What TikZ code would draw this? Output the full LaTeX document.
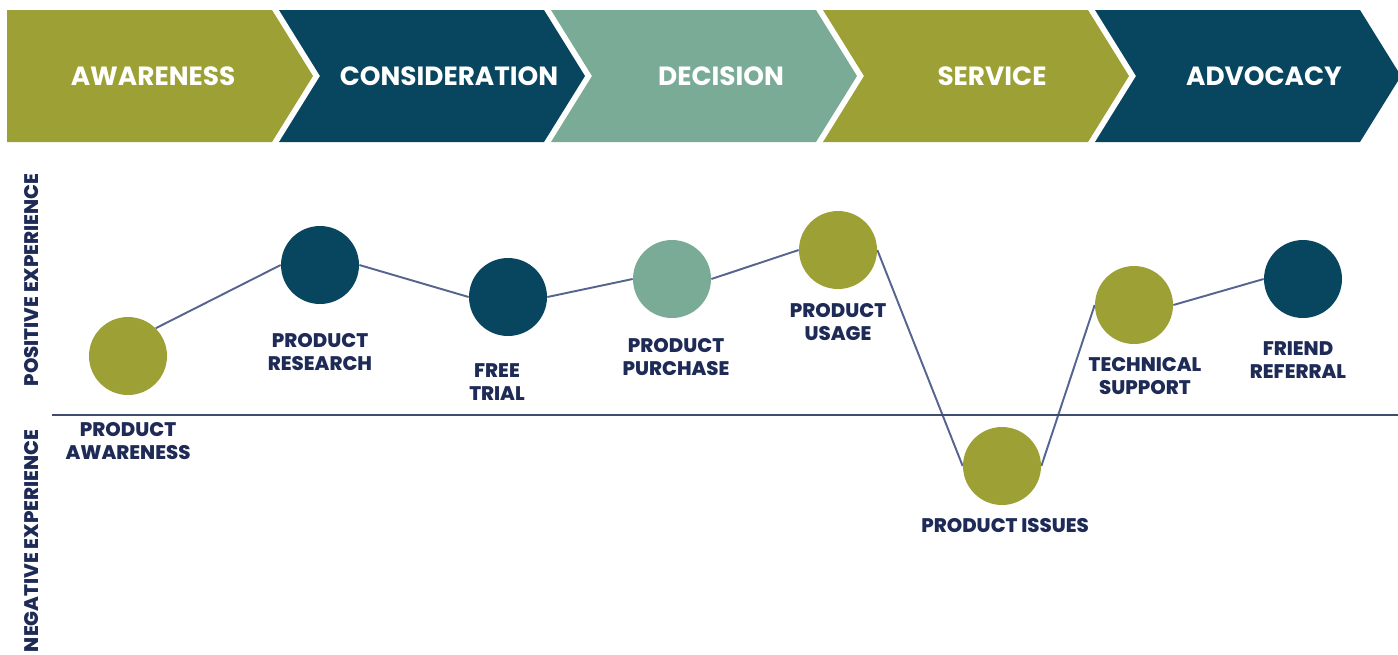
\documentclass[tikz,border=0pt]{standalone}
\usepackage{fontspec}
\setmainfont{Poppins}
\newfontfamily\heavyfont{Poppins ExtraBold}
\usetikzlibrary{positioning,backgrounds}
\definecolor{moss}{HTML}{9DA034}
\definecolor{petrol}{HTML}{08455F}
\definecolor{sage}{HTML}{7AAB96}
\definecolor{ink}{HTML}{1E2B57}
\definecolor{wire}{HTML}{56648F}

\begin{document}
\begin{tikzpicture}[x=0.02cm,y=-0.02cm,
  stage/.style={font=\fontsize{15}{17}\selectfont\bfseries,text=white},
  spot/.style={circle,minimum size=1.56cm,inner sep=0pt},
  tag/.style={font=\fontsize{11.2}{13}\selectfont\heavyfont,text=ink,align=center},
  link/.style={draw=wire,line width=1.1pt}]
  \useasboundingbox (0,0) rectangle (1398,654);

  % stages along the top
  \fill[moss] (7,10) -- (272,10) -- (313,76) -- (272,142) -- (7,142) -- cycle;
  \foreach \x/\c in {279/petrol,551/sage,823/moss,1095/petrol}
    \fill[\c] (\x,10) -- ++(265,0) -- ++(41,66) -- ++(-41,66) -- ++(-265,0) -- ++(41,-66) -- cycle;

  \node[stage] (awa) at (153,76) {AWARENESS};
  \node[stage] (con) at (449,76) {CONSIDERATION};
  \node[stage] (dec) at (721,76) {DECISION};
  \node[stage] (ser) at (992,76) {SERVICE};
  \node[stage] (adv) at (1264,76) {ADVOCACY};

  % experience axis
  \coordinate (axl) at (52,415);
  \coordinate (axr) at (1398,415);
  \draw[ink!85,line width=1.6pt] (axl) -- (axr);
  \node[tag,rotate=90] (pos) at (32,280) {POSITIVE EXPERIENCE};
  \node[tag,rotate=90] (neg) at (32,541) {NEGATIVE EXPERIENCE};

  % touchpoints
  \node[spot,fill=moss]   (paw) at (128,356) {};
  \node[spot,fill=petrol] (pre) at (320,265) {};
  \node[spot,fill=petrol] (ftr) at (508,297) {};
  \node[spot,fill=sage]   (ppu) at (672,279) {};
  \node[spot,fill=moss]   (pus) at (838,250) {};
  \node[spot,fill=moss]   (pis) at (1002,466) {};
  \node[spot,fill=moss]   (tsu) at (1134,305) {};
  \node[spot,fill=petrol] (fre) at (1303,279) {};

  \node[tag] (pawl) at (128,441) {PRODUCT\\AWARENESS};
  \node[tag] (prel) at (320,352) {PRODUCT\\RESEARCH};
  \node[tag] (ftrl) at (497,382) {FREE\\TRIAL};
  \node[tag] (ppul) at (676,357) {PRODUCT\\PURCHASE};
  \node[tag] (pusl) at (838,322) {PRODUCT\\USAGE};
  \node[tag] (pisl) at (1005,526) {PRODUCT ISSUES};
  \node[tag] (tsul) at (1145,376) {TECHNICAL\\SUPPORT};
  \node[tag] (frel) at (1298,360) {FRIEND\\REFERRAL};

  \begin{pgfonlayer}{background}
    \draw[link] (paw.45) -- (pre.west);
    \foreach \a/\b in {pre/ftr,ftr/ppu,ppu/pus,pus/pis,pis/tsu,tsu/fre}
      \draw[link] (\a.east) -- (\b.west);
  \end{pgfonlayer}
\end{tikzpicture}
\end{document}
